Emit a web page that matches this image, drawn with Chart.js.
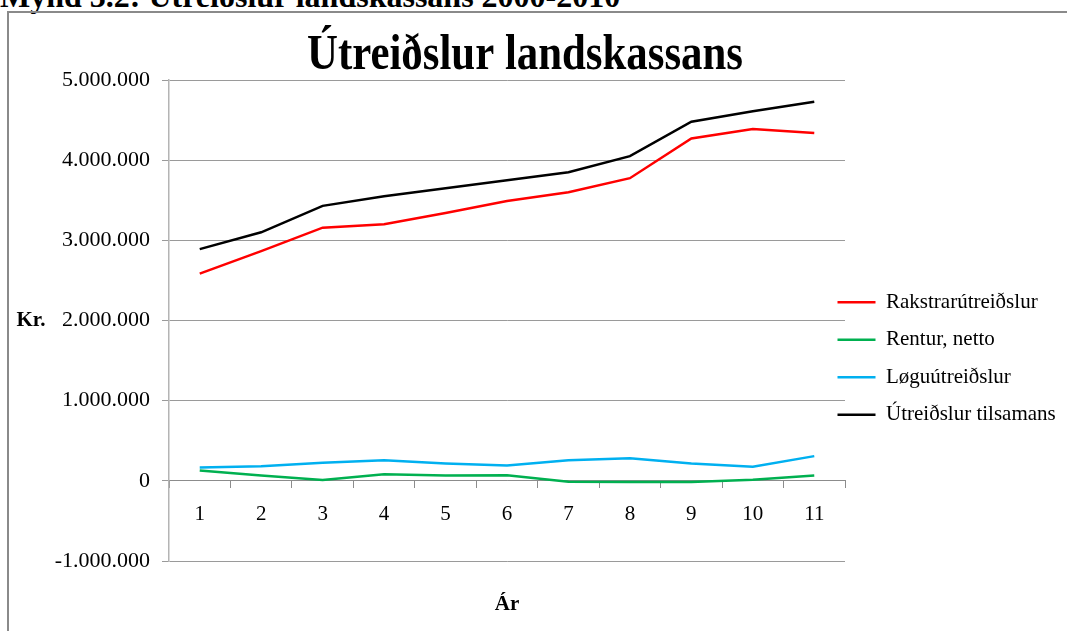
<!DOCTYPE html>
<html lang="fo">
<head>
  <meta charset="UTF-8">
  <title>Útreiðslur landskassans</title>
  <script src="https://cdn.jsdelivr.net/npm/chart.js"></script>
  <style>
    body { margin: 0; background: #fff; overflow: hidden; width: 1067px; height: 631px; position: relative; }
    #caption { position: absolute; left: 0; top: -20px; font: bold 32px 'Liberation Serif', serif; line-height: 32px; white-space: nowrap; color: #000; }
    #frame { position: absolute; left: 7px; top: 11px; width: 1100px; height: 700px; border: 2px solid #8a8a8a; box-sizing: border-box; }
    #wrap { position: absolute; left: 9px; top: 13px; width: 1058px; height: 618px; }
  </style>
</head>
<body>
  <div id="caption">Mynd 3.2: Útreiðslur landskassans 2000-2010</div>
  <div id="frame"></div>
  <div id="wrap">
    <canvas id="utreidslurChart"></canvas>
  </div>

  <script>
    // Ár 1-11
    const ar = ['1', '2', '3', '4', '5', '6', '7', '8', '9', '10', '11'];

    const rakstrarutreidslur = [2584000, 2866000, 3158000, 3200000, 3340000, 3490000, 3600000, 3775000, 4270000, 4390000, 4340000];
    const renturNetto = [130000, 67000, 10000, 83000, 67000, 70000, -10000, -15000, -15000, 15000, 67000];
    const loguutreidslur = [167000, 183000, 225000, 258000, 217000, 190000, 258000, 283000, 217000, 175000, 308000];
    const utreidslurTilsamans = [2890000, 3100000, 3430000, 3550000, 3650000, 3750000, 3850000, 4050000, 4480000, 4610000, 4730000];

    const navn = ['Rakstrarútreiðslur', 'Rentur, netto', 'Løguútreiðslur', 'Útreiðslur tilsamans'];
    const litir = ['#ff0000', '#00b050', '#00b0f0', '#000000'];

    const yMin = -1000000;
    const yMax = 5000000;
    const yStep = 1000000;

    function kronur(v) {
      const s = Math.abs(v).toString().replace(/\B(?=(\d{3})+(?!\d))/g, '.');
      return (v < 0 ? '-' : '') + s;
    }

    // heiti, Kr. og Ár
    const textarPlugin = {
      id: 'textar',
      afterDraw(chart) {
        const ctx = chart.ctx;
        const a = chart.chartArea;
        ctx.save();
        ctx.fillStyle = '#000';
        ctx.textAlign = 'center';
        ctx.textBaseline = 'alphabetic';
        ctx.font = "bold 51px 'Liberation Serif'";
        ctx.translate(516, 56);
        ctx.scale(0.84, 1);
        ctx.fillText('Útreiðslur landskassans', 0, 0);
        ctx.restore();

        ctx.save();
        ctx.fillStyle = '#000';
        ctx.textAlign = 'center';
        ctx.textBaseline = 'middle';
        ctx.font = "bold 21px 'Liberation Serif'";
        ctx.fillText('Kr.', 22, (a.top + a.bottom) / 2);
        ctx.fillText('Ár', (a.left + a.right) / 2, a.bottom + 44);
        ctx.restore();
      }
    };

    // flyt legend eitt sindur til vinstru og niður
    const legendFlyt = {
      id: 'legendFlyt',
      afterLayout(chart) {
        chart.legend.left -= 24;
        chart.legend.top += 38;
        chart.legend.bottom += 38;
      }
    };

    const dataRows = [rakstrarutreidslur, renturNetto, loguutreidslur, utreidslurTilsamans];

    const data = {
      labels: ar,
      datasets: dataRows.map((rows, i) => ({
        label: navn[i],
        data: rows,
        borderColor: litir[i],
        backgroundColor: litir[i],
        borderWidth: 2.5,
        pointRadius: 0,
        tension: 0
      }))
    };

    const config = {
      type: 'line',
      data: data,
      options: {
        responsive: true,
        maintainAspectRatio: false,
        animation: false,
        layout: { padding: { top: 67, left: 0, right: 0, bottom: 70 } },
        scales: {
          x: {
            type: 'category',
            position: { y: 0 },
            offset: true,
            grid: { offset: true, drawOnChartArea: false, drawTicks: true, tickLength: 7, color: '#8c8c8c' },
            border: { color: '#8c8c8c', width: 1 },
            ticks: { color: '#000', padding: 14, maxRotation: 0, font: { family: 'Liberation Serif', size: 21 } }
          },
          y: {
            min: yMin,
            max: yMax,
            afterFit: scale => { scale.width = 160; },
            grid: { color: '#9a9a9a', tickLength: 7, drawTicks: true },
            border: { color: '#b4b4b4', width: 1.5 },
            ticks: {
              stepSize: yStep,
              color: '#000',
              padding: 12,
              font: { family: 'Liberation Serif', size: 22 },
              callback: v => kronur(v)
            }
          }
        },
        plugins: {
          title: { display: false },
          tooltip: { enabled: false },
          legend: {
            position: 'right',
            maxWidth: 222,
            labels: {
              usePointStyle: true,
              pointStyle: 'line',
              pointStyleWidth: 38,
              padding: 16.5,
              color: '#000',
              font: { family: 'Liberation Serif', size: 21 }
            }
          }
        }
      },
      plugins: [legendFlyt, textarPlugin]
    };

    new Chart(document.getElementById('utreidslurChart'), config);
  </script>
</body>
</html>
